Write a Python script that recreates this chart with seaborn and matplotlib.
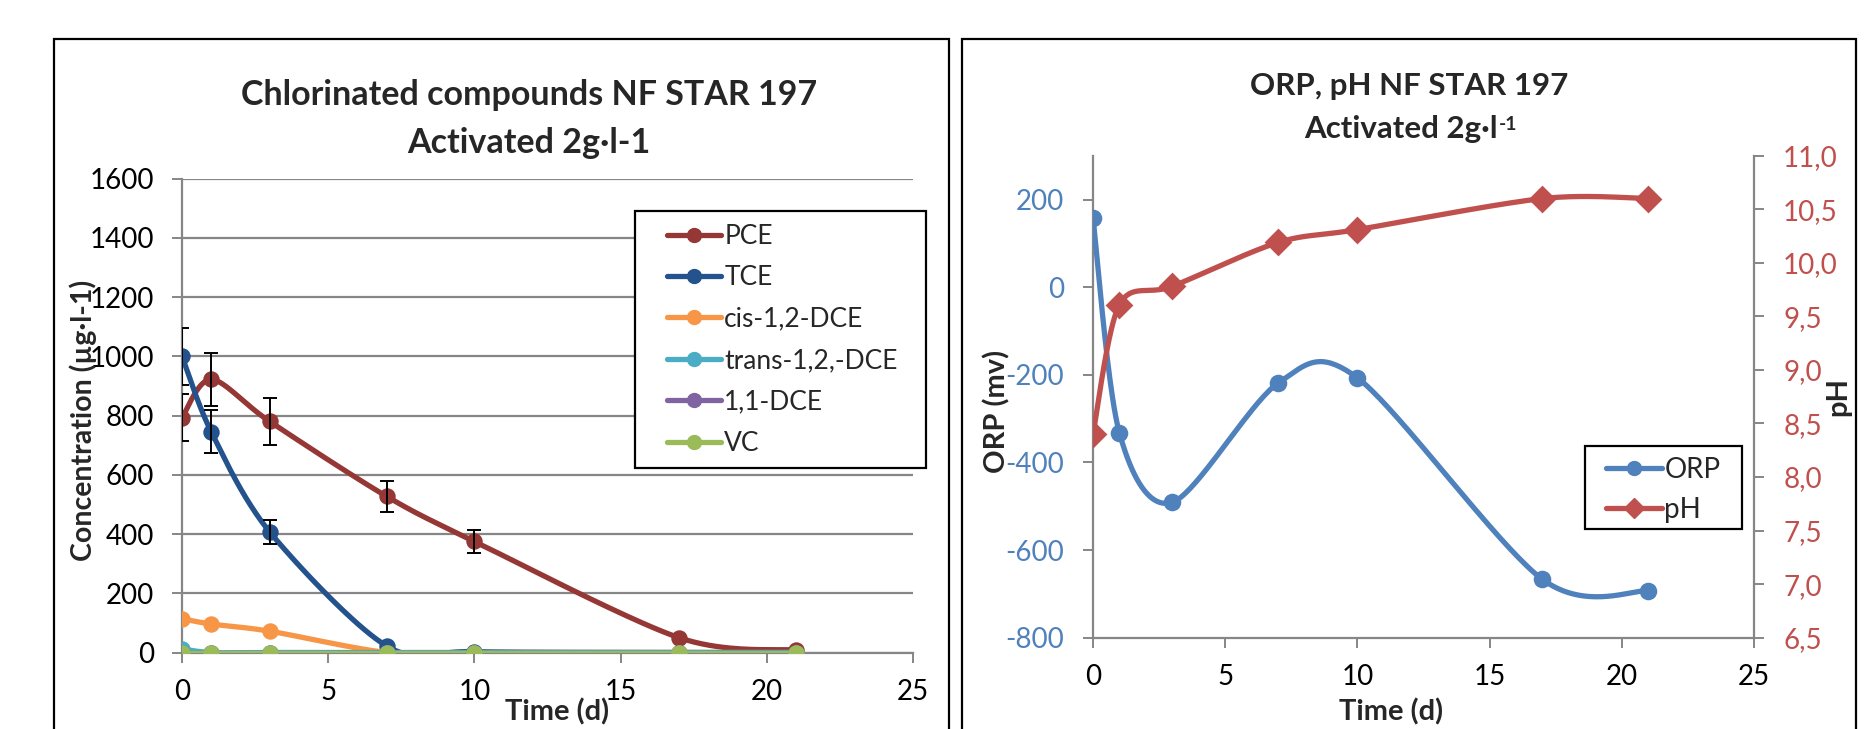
import numpy as np
import pandas as pd
import matplotlib
matplotlib.use("Agg")
import matplotlib.pyplot as plt
import seaborn as sns
from matplotlib.lines import Line2D
from matplotlib.patches import Rectangle

# ---------------- data ----------------
days = [0, 1, 3, 7, 10, 17, 21]
pce = [793, 922, 780, 527, 375, 50, 8]
pce_err = [80, 90, 78, 53, 39, 0, 0]
tce = [1000, 745, 407, 22, 3, 0, 0]
tce_err = [97, 73, 40, 0, 0, 0, 0]
cis_dce = [114, 96, 72, 0, 0, 0, 0]
trans_dce = [12, 0, 0, 0, 0, 0, 0]
dce_11 = [0, 0, 0, 0, 0, 0, 0]
vc = [0, 0, 0, 0, 0, 0, 0]
compound_names = ["PCE", "TCE", "cis-1,2-DCE", "trans-1,2,-DCE", "1,1-DCE", "VC"]

orp = [158, -333, -491, -219, -207, -667, -693]
ph = [8.40, 9.61, 9.78, 10.19, 10.31, 10.60, 10.60]

conc_ticks = [0, 200, 400, 600, 800, 1000, 1200, 1400, 1600]
time_ticks = [0, 5, 10, 15, 20, 25]
orp_ticks = [-800, -600, -400, -200, 0, 200]
ph_ticks = [6.5, 7.0, 7.5, 8.0, 8.5, 9.0, 9.5, 10.0, 10.5, 11.0]
ph_tick_labels = ["6,5", "7,0", "7,5", "8,0", "8,5", "9,0", "9,5", "10,0", "10,5", "11,0"]

# ---------------- style ----------------
sns.set_theme(style="white")
plt.rcParams["font.family"] = ["Lato", "DejaVu Sans"]
plt.rcParams["axes.unicode_minus"] = False

GRAY = "#868686"
colors = ["#953735", "#23528C", "#F79646", "#4BACC6", "#8064A2", "#9BBB59"]
ORP_C = "#4F81BD"
PH_C = "#C0504D"
LW = 3.8
TICK_FS = 20
LEG_FS = 19


def excel_smooth(xs, ys, n=40, k=0.15):
    """Excel-style smoothed line (Bezier through the data points)."""
    pts = np.column_stack([xs, ys]).astype(float)
    out = [pts[0]]
    t = np.linspace(0, 1, n)[1:, None]
    for i in range(len(pts) - 1):
        p0 = pts[i - 1] if i > 0 else pts[i]
        p1, p2 = pts[i], pts[i + 1]
        p3 = pts[i + 2] if i + 2 < len(pts) else pts[i + 1]
        c1 = p1 + (p2 - p0) * k
        c2 = p2 - (p3 - p1) * k
        seg = (1 - t) ** 3 * p1 + 3 * (1 - t) ** 2 * t * c1 + 3 * (1 - t) * t ** 2 * c2 + t ** 3 * p2
        out.extend(seg)
    return np.array(out)


W, H = 1867, 729
fig = plt.figure(figsize=(W / 100, H / 100), dpi=100)
fig.patch.set_facecolor("white")


def frame(x0, y0, x1, y1, lw=1.6, z=1, fill=False):
    fig.add_artist(Rectangle((x0 / W, 1 - y1 / H), (x1 - x0) / W, (y1 - y0) / H,
                             transform=fig.transFigure, fill=fill, fc="white",
                             ec="black", lw=lw, zorder=z))


# panel frames
frame(53.6, 39.3, 949, 800)
frame(962, 39.3, 1856, 800)

# ---------------- left chart ----------------
ax1 = fig.add_axes([182 / W, 1 - 652.5 / H, (913 - 182) / W, (652.5 - 178.6) / H])
series = [pce, tce, cis_dce, trans_dce, dce_11, vc]
for k, (name, vals, col) in enumerate(zip(compound_names, series, colors)):
    curve = excel_smooth(days, vals)
    sns.lineplot(x=curve[:, 0], y=curve[:, 1], sort=False, estimator=None, color=col,
                 lw=LW, ax=ax1, zorder=3 + k)
    sns.scatterplot(x=days, y=vals, color=col, s=140, linewidth=0, ax=ax1, zorder=3.5 + k)

for vals, errs in [(pce, pce_err), (tce, tce_err)]:
    d = pd.DataFrame({"x": days, "y": vals, "e": errs})
    d = d[d.e > 0]
    ax1.errorbar(d.x, d.y, yerr=d.e, fmt="none", ecolor="black", elinewidth=1.4,
                 capsize=5, capthick=1.4, zorder=20)

ax1.set_xlim(0, 25)
ax1.set_ylim(0, 1600)
ax1.set_xticks(time_ticks)
ax1.set_yticks(conc_ticks)
ax1.yaxis.grid(True, color=GRAY, lw=1.6)
ax1.xaxis.grid(False)
for s in ["top", "right"]:
    ax1.spines[s].set_visible(False)
for s in ["left", "bottom"]:
    ax1.spines[s].set_color(GRAY)
    ax1.spines[s].set_linewidth(1.6)
ax1.tick_params(axis="both", which="both", direction="out", length=7, width=1.4,
                color=GRAY, labelsize=TICK_FS, labelcolor="black")
ax1.tick_params(axis="y", pad=13, left=True)
ax1.tick_params(axis="x", pad=12, bottom=True)
ax1.set_xlabel("")
ax1.set_ylabel("")

# legend (box drawn separately to match the reference size)
frame(635, 211, 926, 468, z=28, fill=True)
handles1 = [Line2D([0], [0], color=c, lw=LW, marker="o", markersize=10) for c in colors]
leg1 = fig.legend(handles1, compound_names, loc="upper left",
                  bbox_to_anchor=(667 / W, 1 - 224 / H), bbox_transform=fig.transFigure,
                  fontsize=LEG_FS, frameon=False, handlelength=2.05, handletextpad=0.12,
                  labelspacing=0.62, borderpad=0, borderaxespad=0)
leg1.set_zorder(30)

fig.text(529 / W, 1 - 95 / H, "Chlorinated compounds NF STAR 197", ha="center", va="center",
         fontsize=24.5, fontweight="bold")
fig.text(529 / W, 1 - 143 / H, "Activated 2g·l-1", ha="center", va="center",
         fontsize=24.5, fontweight="bold")
fig.text(83 / W, 1 - 420 / H, "Concentration (µg·l-1)", ha="center", va="center",
         rotation=90, fontsize=20.5, fontweight="bold")
fig.text(557 / W, 1 - 712 / H, "Time (d)", ha="center", va="center",
         fontsize=21, fontweight="bold")

# ---------------- right chart ----------------
ax2 = fig.add_axes([1093 / W, 1 - 637.7 / H, (1754 - 1093) / W, (637.7 - 155.7) / H])
ax3 = ax2.twinx()

orp_curve = excel_smooth(days, orp)
sns.lineplot(x=orp_curve[:, 0], y=orp_curve[:, 1], sort=False, estimator=None,
             color=ORP_C, lw=LW, ax=ax2, zorder=3)
sns.scatterplot(x=days, y=orp, color=ORP_C, s=160, linewidth=0, ax=ax2, zorder=4)

ph_curve = excel_smooth(days, ph)
sns.lineplot(x=ph_curve[:, 0], y=ph_curve[:, 1], sort=False, estimator=None,
             color=PH_C, lw=LW, ax=ax3, zorder=3)
sns.scatterplot(x=days, y=ph, color=PH_C, s=200, marker="D", linewidth=0, ax=ax3, zorder=4)

ax2.set_xlim(0, 25)
ax2.set_ylim(-800, 300)
ax3.set_ylim(6.5, 11.0)
ax2.set_xticks(time_ticks)
ax2.set_yticks(orp_ticks)
ax3.set_yticks(ph_ticks)
ax3.set_yticklabels(ph_tick_labels)
for a in (ax2, ax3):
    a.grid(False)
    a.set_xlabel("")
    a.set_ylabel("")
    for s in a.spines.values():
        s.set_visible(False)
ax2.spines["left"].set_visible(True)
ax2.spines["bottom"].set_visible(True)
ax3.spines["right"].set_visible(True)
for sp in [ax2.spines["left"], ax2.spines["bottom"], ax3.spines["right"]]:
    sp.set_color(GRAY)
    sp.set_linewidth(1.6)
ax2.tick_params(axis="both", direction="out", length=7, width=1.4, color=GRAY,
                labelsize=TICK_FS)
ax2.tick_params(axis="x", bottom=True, pad=12, labelcolor="black")
ax2.tick_params(axis="y", left=True, pad=14, labelcolor=ORP_C)
ax3.tick_params(axis="y", right=True, direction="out", length=7, width=1.4, color=GRAY,
                labelsize=TICK_FS, pad=14, labelcolor=PH_C)

frame(1585, 446, 1742, 529, z=28, fill=True)
handles2 = [Line2D([0], [0], color=ORP_C, lw=LW, marker="o", markersize=10),
            Line2D([0], [0], color=PH_C, lw=LW, marker="D", markersize=10)]
leg2 = fig.legend(handles2, ["ORP", "pH"], loc="upper left",
                  bbox_to_anchor=(1606 / W, 1 - 457 / H), bbox_transform=fig.transFigure,
                  fontsize=LEG_FS + 1, frameon=False, handlelength=2.0, handletextpad=0.1,
                  labelspacing=0.5, borderpad=0, borderaxespad=0)
leg2.set_zorder(30)

fig.text(1409 / W, 1 - 86 / H, "ORP, pH NF STAR 197", ha="center", va="center",
         fontsize=22.5, fontweight="bold")
t_main = fig.text(1401 / W, 1 - 129 / H, "Activated 2g·l", ha="center", va="center",
                  fontsize=22.5, fontweight="bold")
ax2.annotate("-1", xy=(1.0, 1.0), xycoords=t_main, xytext=(1, -1), textcoords="offset points",
             fontsize=14, fontweight="bold", ha="left", va="top", annotation_clip=False)
fig.text(997 / W, 1 - 411 / H, "ORP (mv)", ha="center", va="center",
         rotation=90, fontsize=21, fontweight="bold")
fig.text(1838 / W, 1 - 397 / H, "pH", ha="center", va="center",
         rotation=90, fontsize=21, fontweight="bold")
fig.text(1391 / W, 1 - 712 / H, "Time (d)", ha="center", va="center",
         fontsize=21, fontweight="bold")

fig.savefig("out.png", dpi=100)
